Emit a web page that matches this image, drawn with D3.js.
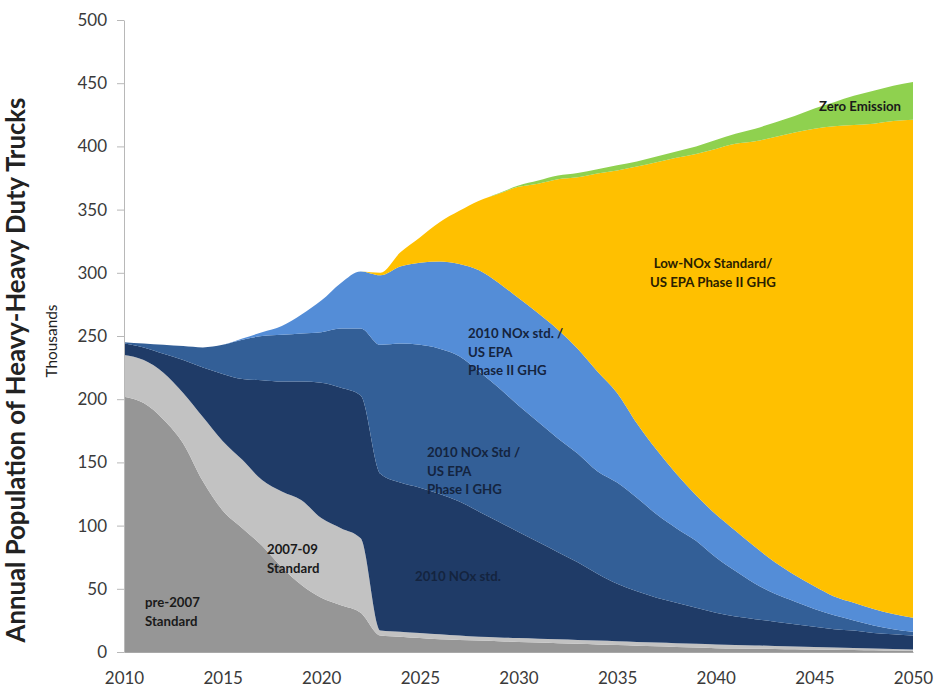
<!DOCTYPE html>
<html>
<head>
<meta charset="utf-8">
<script src="https://cdn.jsdelivr.net/npm/d3@7"></script>
<style>
    body { margin: 0; background: #fff; }
    text { font-family: Lato, "Open Sans", sans-serif; }
</style>
</head>
<body>
<div id="chart"></div>
<script>
// years on the x axis
let years = [2010, 2011, 2012, 2013, 2014, 2015, 2016, 2017, 2018, 2019,
    2020, 2021, 2022, 2023, 2024, 2025, 2026, 2027, 2028, 2029,
    2030, 2031, 2032, 2033, 2034, 2035, 2036, 2037, 2038, 2039,
    2040, 2041, 2042, 2043, 2044, 2045, 2046, 2047, 2048, 2049, 2050];

// thousands of trucks per standard (stacked bottom to top)
let pre2007 = [202, 197, 184, 165, 135, 112, 98, 84, 67, 53, 43, 37, 31,
    13, 12, 11, 10, 9.5, 9, 8.5, 8, 7.5, 7, 6.5, 6, 5.5, 5, 4.5, 4, 3.5, 3,
    2.8, 2.6, 2.4, 2.2, 2, 1.8, 1.6, 1.4, 1.2, 1];
let std0709 = [33, 34, 37, 40, 51, 55, 54, 52, 60, 67, 63, 61, 59,
    4, 4, 4, 4, 3.5, 3, 3, 3, 3, 3, 3, 3, 3, 3, 3, 3, 3, 3,
    2.8, 2.6, 2.4, 2.2, 2, 1.8, 1.6, 1.4, 1.2, 1];
let nox2010 = [9, 10, 15, 26, 39, 53, 64, 79, 87, 94, 107, 111, 113,
    124, 118, 115, 111, 106, 99, 91.5, 84, 76.5, 69, 61.5, 53, 45.5, 40, 35.5, 32, 28.5, 25,
    22.4, 20.8, 19.2, 17.6, 16, 14.4, 13.8, 12.2, 11.6, 11];
let phase1 = [1, 3, 7, 11, 16, 23, 31, 35, 37, 38, 40, 47, 53,
    102, 110, 113, 115, 115, 111, 106, 100, 95, 90, 86, 81, 80, 74, 66, 59, 53, 44,
    36, 28, 22, 18, 14, 11, 8, 6, 4, 3];
let phase2 = [0, 0, 0, 0, 0, 0, 1, 3, 7, 15, 25, 36, 45,
    55, 61, 65, 69, 73, 80, 83, 85, 86, 86, 83, 79, 71, 59, 51, 43, 36, 34,
    32, 29, 25, 21, 18, 15, 14, 13, 12, 11];
let lowNox = [0, 0, 0, 0, 0, 0, 0, 0, 0, 0, 0, 0, 0,
    2, 11, 20, 31, 42, 55, 70.5, 88, 102.5, 119, 135.5, 156.5, 176, 203, 227.5, 250, 270, 289,
    306, 321, 336.5, 350, 362, 372, 378, 384, 390, 394];
let zeroEm = [0, 0, 0, 0, 0, 0, 0, 0, 0, 0, 0, 0, 0,
    0, 0, 0, 0, 0, 0, 0.5, 1, 2.5, 3, 3.5, 3.5, 4, 4, 4.5, 5, 6, 7,
    8, 10, 11.5, 13, 16, 19, 23, 26, 28, 30];

let yTicks = [0, 50, 100, 150, 200, 250, 300, 350, 400, 450, 500];
let xTicks = [2010, 2015, 2020, 2025, 2030, 2035, 2040, 2045, 2050];

let keys = ["pre2007", "std0709", "nox2010", "phase1", "phase2", "lowNox", "zeroEm"];
let colors = ["#969696", "#c2c2c2", "#1f3b67", "#335f97", "#548dd7", "#ffc000", "#8fd14f"];

let areaChart = function () {
    let width = 937;
    let height = 687;

    function chart(selection)
    {
        let rows = selection.datum();

        let svg = selection.append("svg")
            .attr("width", width)
            .attr("height", height);

        let x = d3.scaleLinear().domain([2010, 2050]).range([124, 913]);
        let y = d3.scaleLinear().domain([0, 500]).range([652, 20]);
        let color = d3.scaleOrdinal().domain(keys).range(colors);

        let series = d3.stack().keys(keys)(rows);

        let area = d3.area()
            .curve(d3.curveMonotoneX)
            .x(d => x(d.data.year))
            .y0(d => y(d[0]))
            .y1(d => y(d[1]));

        svg.append("g")
            .selectAll("path")
            .data(series)
            .enter()
            .append("path")
            .attr("fill", d => color(d.key))
            .attr("d", area);

        // y axis
        let yAxis = svg.append("g")
            .attr("transform", "translate(124,0)")
            .call(d3.axisLeft(y).tickValues(yTicks).tickSize(7).tickSizeOuter(0).tickPadding(10));
        yAxis.selectAll("path, line").attr("stroke", "#b8b8b8");
        yAxis.selectAll("text")
            .attr("fill", "#3a3a3a")
            .style("font-size", "17px");

        // x axis, labels only
        let xAxis = svg.append("g")
            .attr("transform", "translate(0,652)")
            .call(d3.axisBottom(x).tickValues(xTicks).tickFormat(d3.format("d")).tickSize(0).tickPadding(20));
        xAxis.select(".domain").attr("stroke", "#a8a8a8");
        xAxis.selectAll("text")
            .attr("fill", "#3a3a3a")
            .style("font-size", "17px");

        // axis titles
        let title = svg.append("text")
            .attr("transform", "translate(25,370) rotate(-90)")
            .attr("text-anchor", "middle")
            .attr("fill", "#222")
            .style("font-weight", "bold")
            .style("font-size", "18px")
            .text("Annual Population of Heavy-Heavy Duty Trucks");
        let len = title.node().getComputedTextLength();
        title.style("font-size", (18 * 545 / len) + "px");

        let unit = svg.append("text")
            .attr("transform", "translate(57,341) rotate(-90)")
            .attr("text-anchor", "middle")
            .attr("fill", "#222")
            .style("font-size", "13px")
            .text("Thousands");
        let ulen = unit.node().getComputedTextLength();
        unit.style("font-size", (13 * 73 / ulen) + "px");

        // labels inside the areas
        let label = (lines, lx, ly, anchor, fill) =>
        {
            let t = svg.append("text")
                .attr("x", lx)
                .attr("y", ly)
                .attr("text-anchor", anchor)
                .attr("fill", fill)
                .style("font-size", "13.2px")
                .style("font-weight", "bold");
            lines.forEach((l, i) => {
                t.append("tspan").attr("x", lx).attr("dy", i ? 18.5 : 0).text(l);
            });
        };

        label(["pre-2007", "Standard"], 145, 607, "start", "#1a1a1a");
        label(["2007-09", "Standard"], 267, 554, "start", "#1a1a1a");
        label(["2010 NOx std."], 415, 581, "start", "#14243f");
        label(["2010 NOx Std /", "US EPA", "Phase I GHG"], 427, 457, "start", "#14243f");
        label(["2010 NOx std. /", "US EPA", "Phase II GHG"], 468, 338, "start", "#14243f");
        label(["Low-NOx Standard/", "US EPA Phase II GHG"], 713, 268, "middle", "#2a2000");
        label(["Zero Emission"], 901, 111, "end", "#1a1a1a");
    }

    chart.width = value =>
    {
        width = value;
        return chart;
    };

    chart.height = value =>
    {
        height = value;
        return chart;
    };

    return chart;
};

window.onload = () =>
{
    let rows = years.map((yr, i) => ({
        year: yr,
        pre2007: pre2007[i],
        std0709: std0709[i],
        nox2010: nox2010[i],
        phase1: phase1[i],
        phase2: phase2[i],
        lowNox: lowNox[i],
        zeroEm: zeroEm[i]
    }));

    let myChart = areaChart();
    d3.select("#chart").datum(rows).call(myChart);
};
</script>
</body>
</html>
